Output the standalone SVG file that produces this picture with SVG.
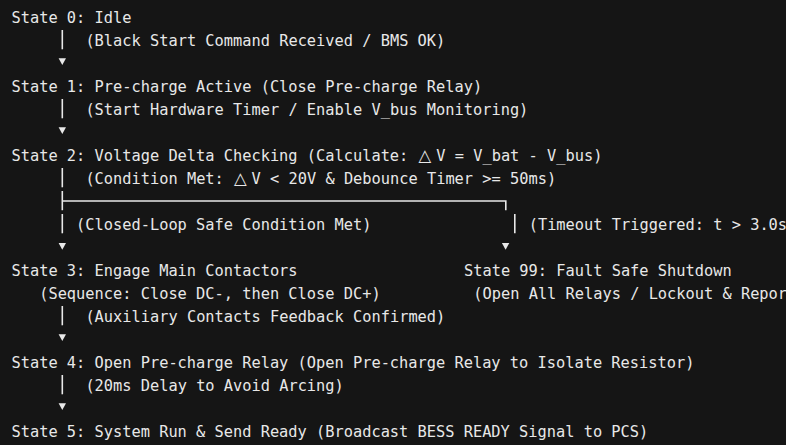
<svg xmlns="http://www.w3.org/2000/svg" width="786" height="445" viewBox="0 0 786 445">
<style>
text{font-family:"DejaVu Sans Mono","Liberation Mono",monospace;font-size:15.34px;fill:#e8e8e8}
.d{font-family:"DejaVu Sans","Noto Sans",sans-serif;font-size:16.5px}
.c line,.c path.l{stroke:#e8e8e8;stroke-width:1.6;fill:none}
.c path.a{fill:#e8e8e8;stroke:none}
</style>
<rect width="786" height="445" fill="#151515"/>
<g id="connectors" class="c">
<line x1="62.3" y1="30" x2="62.3" y2="49.3"/>
<path class="a" d="M58.6 58.3 H66 L62.3 65 Z"/>
<line x1="62.3" y1="99" x2="62.3" y2="118.3"/>
<path class="a" d="M58.6 127.3 H66 L62.3 134 Z"/>
<line x1="62.3" y1="168" x2="62.3" y2="187.3"/>
<path class="l" d="M62.3 191 V210.3 M62.3 201 H505.8 V210.3"/>
<line x1="62.3" y1="214" x2="62.3" y2="233.3"/>
<line x1="514.8" y1="214" x2="514.8" y2="233.3"/>
<path class="a" d="M58.6 243 H66 L62.3 249.8 Z"/>
<path class="a" d="M501.9 243 H509.3 L505.6 249.8 Z"/>
<line x1="62.3" y1="306" x2="62.3" y2="325.3"/>
<path class="a" d="M58.6 334.3 H66 L62.3 341 Z"/>
<line x1="62.3" y1="375" x2="62.3" y2="394.3"/>
<path class="a" d="M58.6 403.3 H66 L62.3 410 Z"/>
</g>
<g id="state0"><text x="11.5" y="22.5">State 0: Idle</text></g>
<g id="t0"><text x="85.4" y="45.5">(Black Start Command Received / BMS OK)</text></g>
<g id="state1"><text x="11.5" y="91.5">State 1: Pre-charge Active (Close Pre-charge Relay)</text></g>
<g id="t1"><text x="85.4" y="114.5">(Start Hardware Timer / Enable V_bus Monitoring)</text></g>
<g id="state2"><text x="11.5" y="160.5">State 2: Voltage Delta Checking (Calculate:</text><text class="d" x="418.6" y="160.5">△</text><text x="436.3" y="160.5">V = V_bat - V_bus)</text></g>
<g id="t2"><text x="85.4" y="183.5">(Condition Met:</text><text class="d" x="234" y="183.5">△</text><text x="251.6" y="183.5">V &lt; 20V &amp; Debounce Timer &gt;= 50ms)</text></g>
<g id="t2a"><text x="76.1" y="229.5">(Closed-Loop Safe Condition Met)</text></g>
<g id="t2b"><text x="528.7" y="229.5">(Timeout Triggered: t &gt; 3.0s)</text></g>
<g id="state3"><text x="11.5" y="275.5">State 3: Engage Main Contactors</text><text x="39.2" y="298.5">(Sequence: Close DC-, then Close DC+)</text></g>
<g id="state99"><text x="464" y="275.5">State 99: Fault Safe Shutdown</text><text x="473.3" y="298.5">(Open All Relays / Lockout &amp; Report)</text></g>
<g id="t3"><text x="85.4" y="321.5">(Auxiliary Contacts Feedback Confirmed)</text></g>
<g id="state4"><text x="11.5" y="367.5">State 4: Open Pre-charge Relay (Open Pre-charge Relay to Isolate Resistor)</text></g>
<g id="t4"><text x="85.4" y="390.5">(20ms Delay to Avoid Arcing)</text></g>
<g id="state5"><text x="11.5" y="436.5">State 5: System Run &amp; Send Ready (Broadcast BESS READY Signal to PCS)</text></g>
</svg>
